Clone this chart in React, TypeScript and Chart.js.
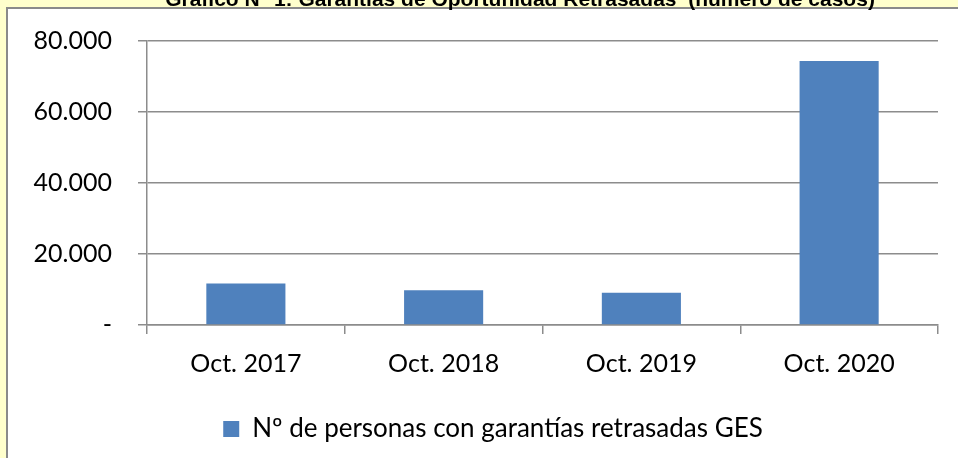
import { useEffect, useRef } from "react";
import { Chart, registerables } from "chart.js";

Chart.register(...registerables);

const categories = ["Oct. 2017", "Oct. 2018", "Oct. 2019", "Oct. 2020"];
const values = [11700, 9800, 9100, 74400];
const seriesLabel = "Nº de personas con garantías retrasadas GES";
const yTickValues = [0, 20000, 40000, 60000, 80000];
const yTickLabels = ["-", "20.000", "40.000", "60.000", "80.000"];
const chartTitle = "Gráfico N° 1: Garantías de Oportunidad Retrasadas  (número de casos)";

const W = 958;
const H = 458;

export default function App() {
  const ref = useRef<HTMLCanvasElement>(null);

  useEffect(() => {
    const canvas = ref.current;
    if (!canvas) return;

    const background = {
      id: "background",
      beforeDraw(chart: any) {
        const { ctx } = chart;
        ctx.save();
        ctx.fillStyle = "#FFFFCC";
        ctx.fillRect(0, 0, W, H);
        ctx.fillStyle = "#FFFFFF";
        ctx.fillRect(7, 8, W - 7, H - 8);
        ctx.fillStyle = "#8a8a8a";
        ctx.fillRect(6, 7, W - 6, 2);
        ctx.fillRect(6, 7, 2, H - 7);
        ctx.fillStyle = "#000000";
        ctx.font = "bold 21px 'Liberation Sans', Arial, sans-serif";
        ctx.textAlign = "center";
        ctx.textBaseline = "alphabetic";
        ctx.fillText(chartTitle, 520, 6);
        ctx.restore();
      },
    };

    const legendShift = {
      id: "legendShift",
      afterLayout(chart: any) {
        if (chart.legend) {
          chart.legend.left = 48;
        }
      },
    };

    const gridColor = "#8c8c8c";

    const chart = new Chart(canvas, {
      type: "bar",
      data: {
        labels: categories,
        datasets: [
          {
            label: seriesLabel,
            data: values,
            backgroundColor: "#4F81BD",
            borderWidth: 0,
            barPercentage: 0.4,
            categoryPercentage: 1.0,
          },
        ],
      },
      options: {
        responsive: false,
        animation: false,
        layout: { padding: { left: 0, right: 20, top: 38, bottom: 6 } },
        plugins: {
          title: { display: false },
          tooltip: { enabled: false },
          legend: {
            display: true,
            position: "bottom",
            labels: {
              boxWidth: 16,
              boxHeight: 16,
              padding: 10,
              color: "#000000",
              font: { family: "Lato", size: 26 },
            },
          },
        },
        scales: {
          x: {
            afterFit(scale: any) {
              scale.height = scale.height + 12;
            },
            grid: {
              display: true,
              offset: true,
              drawOnChartArea: false,
              drawTicks: true,
              tickLength: 9,
              color: gridColor,
              lineWidth: 1.5,
            },
            border: { display: true, color: gridColor, width: 1.5 },
            ticks: {
              color: "#000000",
              padding: 15,
              font: { family: "Lato", size: 25 },
            },
          },
          y: {
            min: 0,
            max: 80000,
            afterFit(scale: any) {
              scale.width = 147;
            },
            afterBuildTicks(scale: any) {
              scale.ticks = yTickValues.map((v) => ({ value: v }));
            },
            grid: {
              display: true,
              drawTicks: true,
              tickLength: 9,
              color: gridColor,
              lineWidth: 1.5,
            },
            border: { display: true, color: gridColor, width: 1.5 },
            ticks: {
              color: "#000000",
              padding: 26,
              font: { family: "Lato", size: 25 },
              callback: (v: any) => {
                const i = yTickValues.indexOf(Number(v));
                return i >= 0 ? yTickLabels[i] : "";
              },
            },
          },
        },
      },
      plugins: [background, legendShift],
    });

    return () => chart.destroy();
  }, []);

  return (
    <div style={{ position: "fixed", left: 0, top: 0, width: W, height: H }}>
      <canvas ref={ref} width={W} height={H} style={{ display: "block", width: W, height: H }} />
    </div>
  );
}
